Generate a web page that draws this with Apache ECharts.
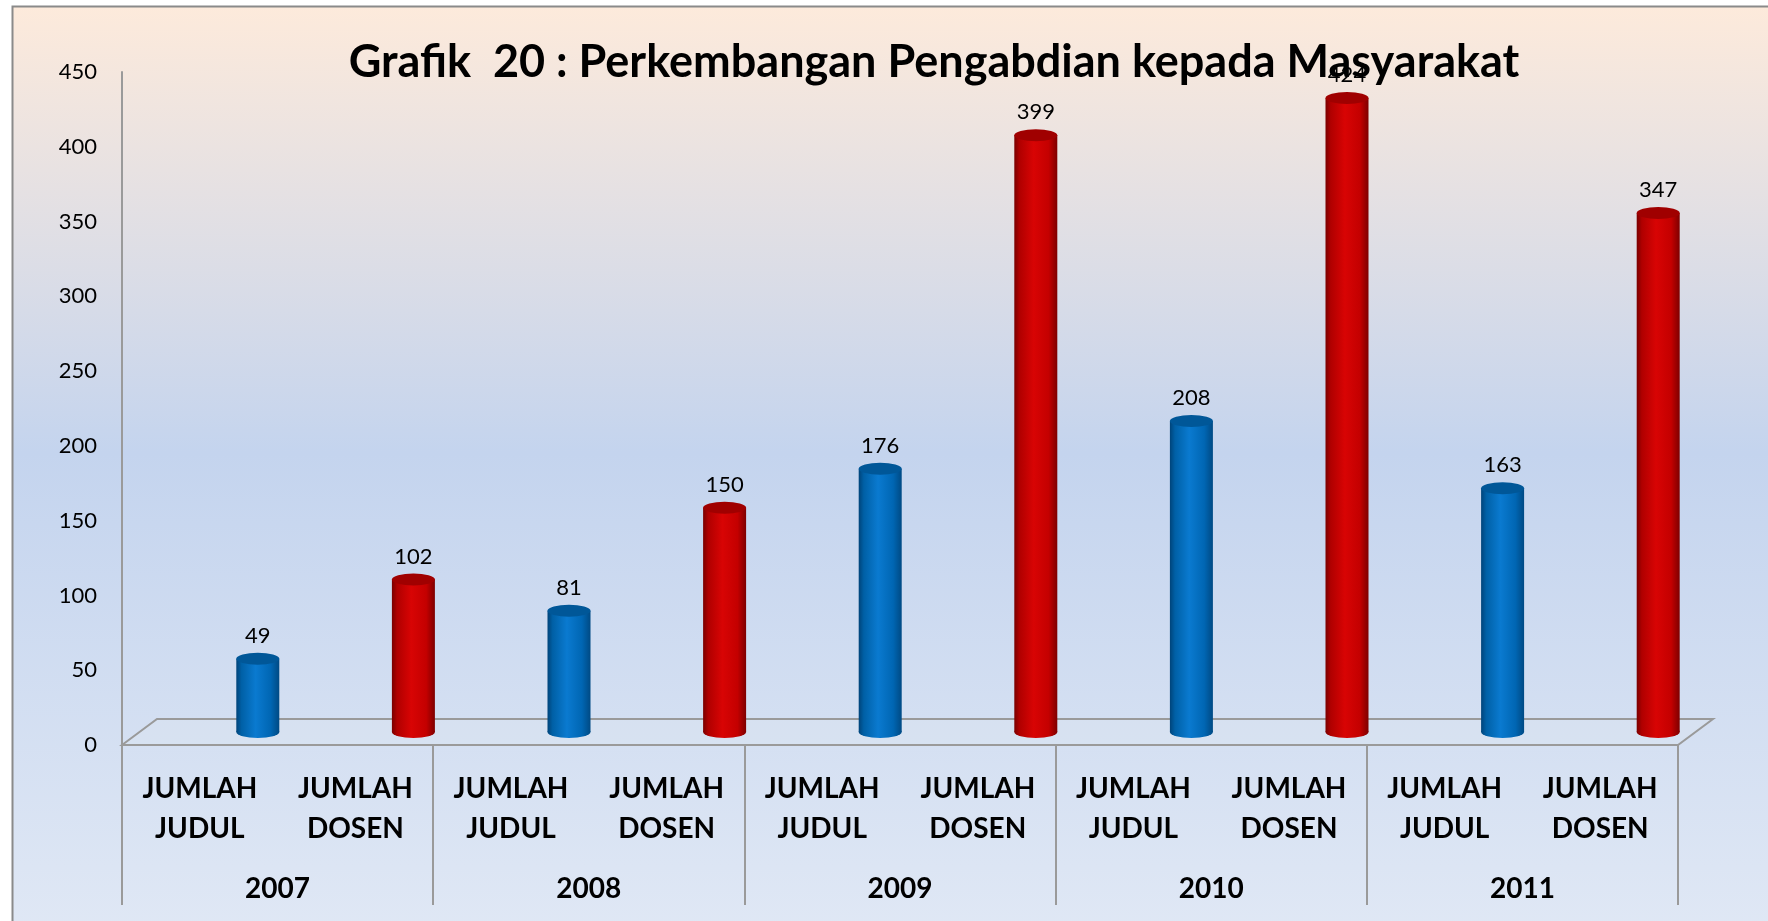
<!DOCTYPE html>
<html>
<head>
<meta charset="utf-8">
<script src="https://cdn.jsdelivr.net/npm/echarts@6/dist/echarts.min.js"></script>
<style>
html,body{margin:0;padding:0;background:#fff;}
#chart{width:1768px;height:921px;}
</style>
</head>
<body>
<div id="chart"></div>
<script>
// ---- data ----
var years = ['2007', '2008', '2009', '2010', '2011'];
var subCategories = ['JUMLAH\nJUDUL', 'JUMLAH\nDOSEN'];
var jumlahJudul = [49, 81, 176, 208, 163];
var jumlahDosen = [102, 150, 399, 424, 347];
var yTicks = { min: 0, max: 450, interval: 50 };
var titleText = 'Grafik  20 : Perkembangan Pengabdian kepada Masyarakat';

// ---- build ----
var FONT = 'Lato, "Open Sans", sans-serif';
var G = echarts.graphic;
function grad(stops) {
  return new G.LinearGradient(0, 0, 1, 0, stops.map(function (c) { return { offset: c[0], color: c[1] }; }));
}
var blueBody = grad([[0, '#00447a'], [0.12, '#0060a6'], [0.45, '#0a7ad0'], [0.8, '#0066b3'], [1, '#004a84']]);
var redBody = grad([[0, '#7a0000'], [0.12, '#b00000'], [0.45, '#d80404'], [0.8, '#c40000'], [1, '#7e0000']]);
var blueTop = '#005798';
var redTop = '#a00000';

var cats = [], bodyData = [], topData = [];
years.forEach(function (y, i) {
  [[jumlahJudul[i], blueBody, blueTop, subCategories[0]], [jumlahDosen[i], redBody, redTop, subCategories[1]]].forEach(function (d) {
    cats.push(d[3]);
    bodyData.push({ value: d[0], itemStyle: { color: d[1] } });
    topData.push({ value: d[0], itemStyle: { color: d[2] } });
  });
});

// layout
var gx = 122, gw = 1556, gTop = 72, gBottom = 745;
var depthX = 35, depthY = 26;
var barShiftX = 58, barShiftY = 13;
var barW = 43, ellH = 12;

var chart = echarts.init(document.getElementById('chart'));
chart.setOption({
  backgroundColor: '#ffffff',
  animation: false,
  graphic: [
    {
      type: 'rect', z: -10, silent: true,
      shape: { x: 12.5, y: 6.5, width: 1768, height: 930 },
      style: {
        fill: new G.LinearGradient(0, 0, 0, 1, [
          { offset: 0, color: '#fdeadb' },
          { offset: 0.48, color: '#c4d4ee' },
          { offset: 1, color: '#e0e8f5' }
        ]),
        stroke: '#8a8a8a', lineWidth: 2
      }
    },
    {
      type: 'polygon', z: 1, silent: true,
      shape: { points: [[gx, gBottom], [gx + depthX, gBottom - depthY], [gx + gw + depthX, gBottom - depthY], [gx + gw, gBottom]] },
      style: { fill: 'rgba(220,228,242,0.35)', stroke: '#9a9a9a', lineWidth: 2 }
    },
    {
      type: 'text', z: 50,
      x: 934, y: 62,
      style: {
        text: titleText, fill: '#000', font: 'bold 45px ' + FONT,
        align: 'center', verticalAlign: 'middle'
      }
    }
  ],
  grid: [
    { left: gx, width: gw, top: gTop, height: gBottom - gTop, containLabel: false },
    { left: gx + barShiftX, width: gw, top: gTop - barShiftY, height: gBottom - gTop, containLabel: false }
  ],
  xAxis: [
    {
      gridIndex: 0, type: 'category', data: cats, position: 'bottom',
      axisLine: { show: true, lineStyle: { color: '#9a9a9a', width: 2 } },
      axisTick: { show: false },
      axisLabel: {
        interval: 0, margin: 24, color: '#000', fontFamily: FONT, fontWeight: 'bold',
        fontSize: 28, lineHeight: 40, align: 'center'
      }
    },
    {
      gridIndex: 0, type: 'category', data: years, position: 'bottom',
      axisLine: { show: false },
      axisTick: { show: true, alignWithLabel: false, interval: 0, length: 160, lineStyle: { color: '#9a9a9a', width: 2 } },
      axisLabel: { interval: 0, margin: 130, color: '#000', fontFamily: FONT, fontWeight: 'bold', fontSize: 28 }
    },
    { gridIndex: 1, type: 'category', data: cats, show: false },
    { gridIndex: 1, type: 'category', data: cats, show: false },
    { gridIndex: 1, type: 'category', data: cats, show: false }
  ],
  yAxis: [
    {
      gridIndex: 0, type: 'value', min: yTicks.min, max: yTicks.max, interval: yTicks.interval,
      axisLine: { show: true, lineStyle: { color: '#9a9a9a', width: 2 } },
      axisTick: { show: false },
      splitLine: { show: false },
      axisLabel: { color: '#000', fontFamily: FONT, fontSize: 22, margin: 25 }
    },
    {
      gridIndex: 1, type: 'value', min: yTicks.min, max: yTicks.max, interval: yTicks.interval, show: false,
      splitLine: { show: false }
    }
  ],
  series: [
    {
      type: 'pictorialBar', xAxisIndex: 2, yAxisIndex: 1, z: 3,
      symbol: 'circle', symbolSize: [barW, ellH], symbolPosition: 'start', symbolOffset: [0, '50%'],
      data: bodyData
    },
    {
      type: 'bar', xAxisIndex: 3, yAxisIndex: 1, z: 4,
      barWidth: barW,
      data: bodyData,
      label: {
        show: true, position: 'top', distance: 12, color: '#000',
        fontFamily: FONT, fontSize: 22
      }
    },
    {
      type: 'pictorialBar', xAxisIndex: 4, yAxisIndex: 1, z: 5,
      symbol: 'circle', symbolSize: [barW, ellH], symbolPosition: 'end', symbolOffset: [0, '-50%'],
      data: topData
    }
  ]
});
</script>
</body>
</html>
